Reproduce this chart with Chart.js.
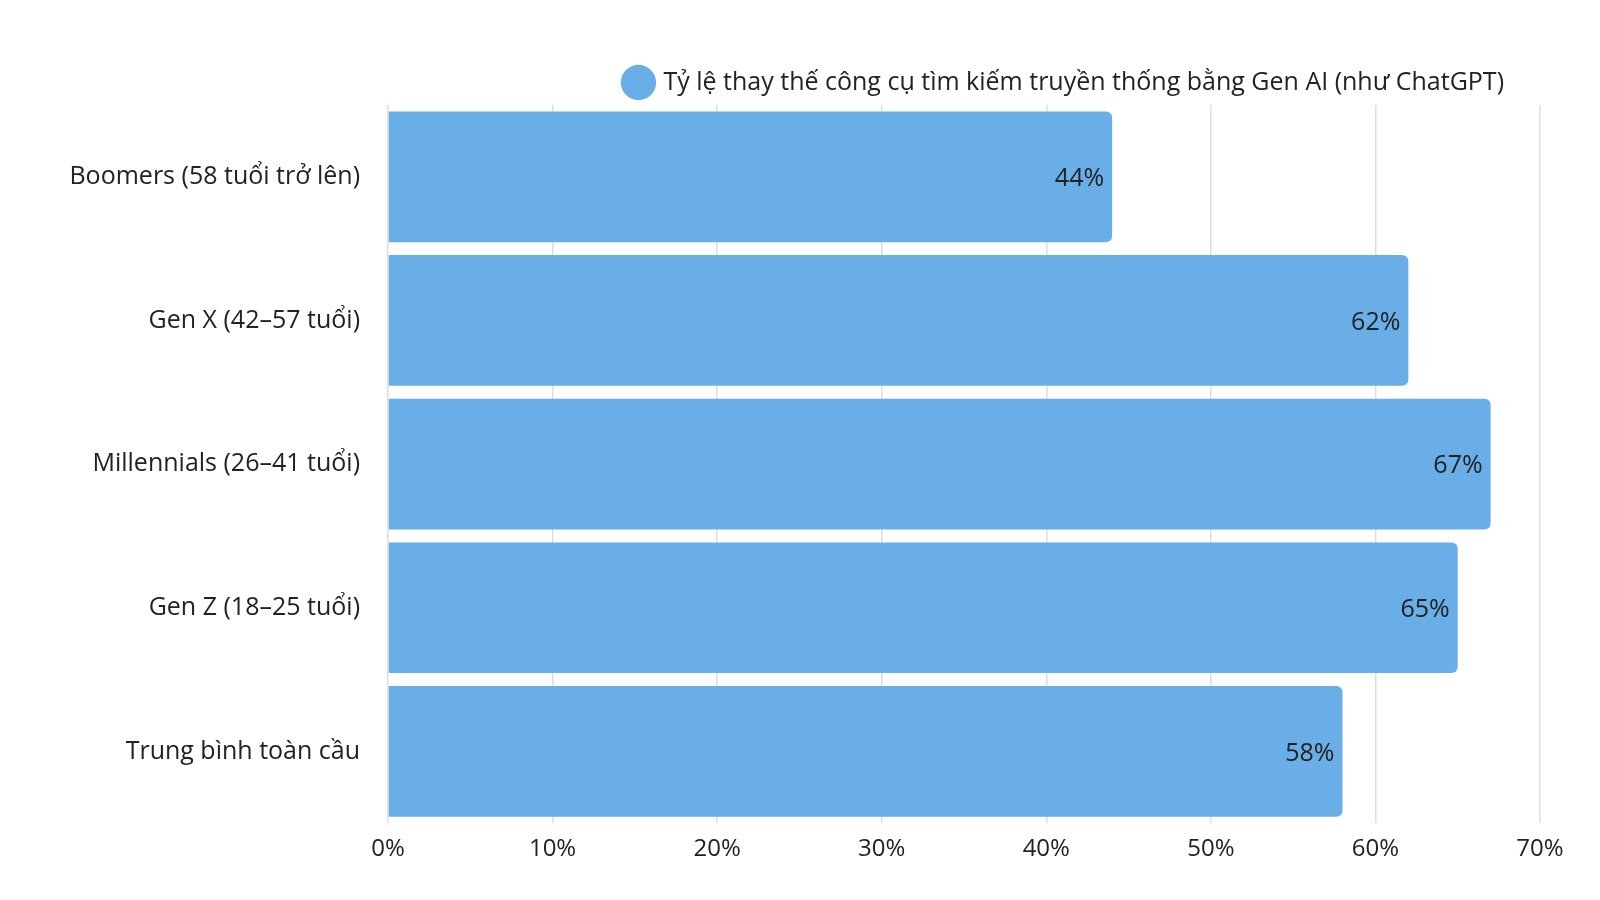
<!DOCTYPE html>
<html>
<head>
<meta charset="utf-8">
<script src="https://cdn.jsdelivr.net/npm/chart.js@4"></script>
<style>
  html, body { margin: 0; padding: 0; background: #fff; }
  #wrap { width: 1600px; height: 900px; }
</style>
</head>
<body>
<div id="wrap"><canvas id="chart"></canvas></div>
<script>
// データ
const categories = [
  'Boomers (58 tuổi trở lên)',
  'Gen X (42–57 tuổi)',
  'Millennials (26–41 tuổi)',
  'Gen Z (18–25 tuổi)',
  'Trung bình toàn cầu'
];
const values = [44, 62, 67, 65, 58];
const seriesLabel = 'Tỷ lệ thay thế công cụ tìm kiếm truyền thống bằng Gen AI (như ChatGPT)';
const tickMax = 70;

const barColor = '#6aaee7';
const textColor = '#222222';
const fontFamily = '"Open Sans", sans-serif';

// 値ラベルを棒の内側右端に描画
const valueLabels = {
  id: 'valueLabels',
  afterDatasetsDraw(chart) {
    const ctx = chart.ctx;
    const meta = chart.getDatasetMeta(0);
    ctx.save();
    ctx.font = '25px ' + fontFamily;
    ctx.fillStyle = textColor;
    ctx.textAlign = 'right';
    ctx.textBaseline = 'middle';
    meta.data.forEach((bar, i) => {
      ctx.fillText(values[i] + '%', bar.x - 8, bar.y + 2);
    });
    ctx.restore();
  }
};

Chart.defaults.font.family = fontFamily;
Chart.defaults.color = textColor;

new Chart(document.getElementById('chart'), {
  type: 'bar',
  data: {
    labels: categories,
    datasets: [{
      label: seriesLabel,
      data: values,
      backgroundColor: barColor,
      borderRadius: { topRight: 6, bottomRight: 6 },
      borderSkipped: 'start',
      barPercentage: 0.91,
      categoryPercentage: 1
    }]
  },
  options: {
    indexAxis: 'y',
    responsive: true,
    maintainAspectRatio: false,
    animation: false,
    layout: { padding: { left: 0, right: 60, top: 34, bottom: 24 } },
    plugins: {
      legend: {
        align: 'end',
        labels: {
          usePointStyle: true,
          pointStyle: 'circle',
          boxWidth: 26,
          boxHeight: 26,
          padding: 36,
          font: { size: 25 },
          color: textColor
        }
      },
      tooltip: { enabled: false }
    },
    scales: {
      x: {
        min: 0,
        max: tickMax,
        grid: { color: '#dddddd', lineWidth: 1.5, drawTicks: false },
        border: { display: false },
        ticks: {
          stepSize: 10,
          padding: 12,
          font: { size: 24 },
          callback: v => v + '%'
        }
      },
      y: {
        grid: { display: false },
        border: { display: false },
        afterFit: scale => { scale.width = 388; },
        ticks: { padding: 20, font: { size: 25 } }
      }
    }
  },
  plugins: [valueLabels]
});
</script>
</body>
</html>
